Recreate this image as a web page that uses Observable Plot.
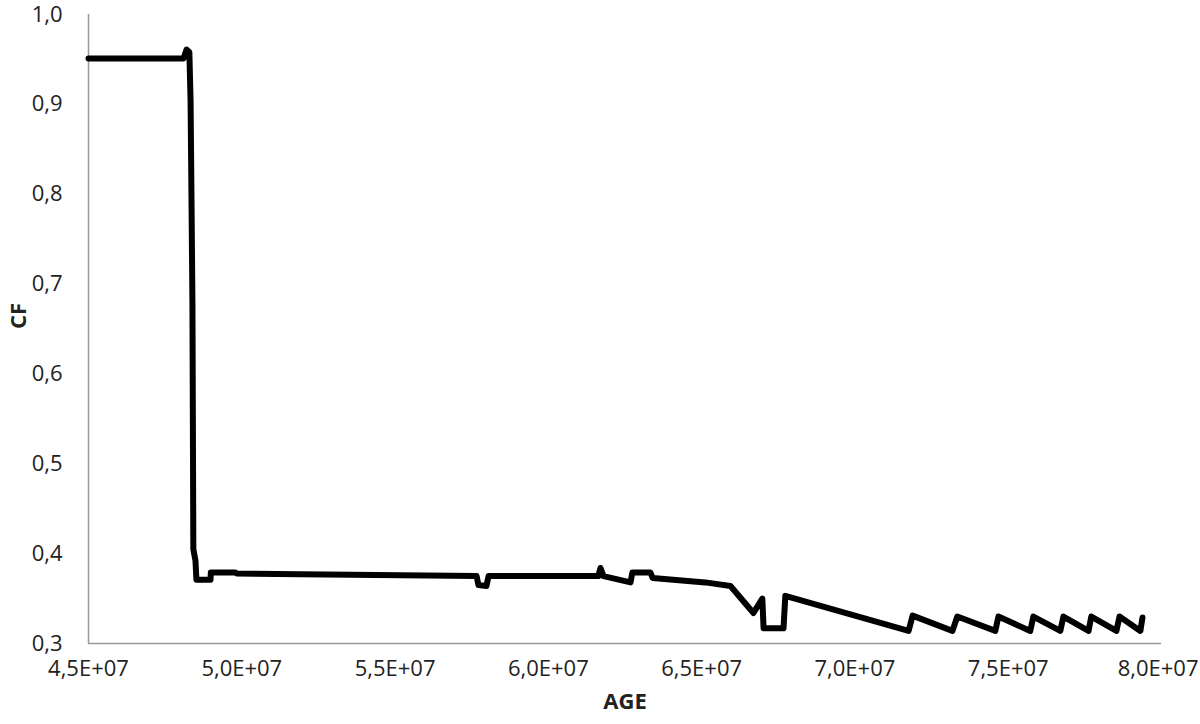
<!DOCTYPE html>
<html>
<head>
<meta charset="utf-8">
<script src="https://cdn.jsdelivr.net/npm/d3@7"></script>
<script src="https://cdn.jsdelivr.net/npm/@observablehq/plot@0.6"></script>
<style>
  html, body { margin: 0; padding: 0; background: #fff; }
  #chart { width: 1200px; height: 724px; }
  #chart svg { overflow: visible; }
  #chart svg text { font-family: 'Open Sans', 'Liberation Sans', sans-serif !important; font-size: 22px !important; }
  #chart svg g.title text { font-weight: bold !important; }
</style>
</head>
<body>
<div id="chart"></div>
<script>
// Age values (years)
const ages = [
  45.00e6, 48.10e6, 48.20e6, 48.29e6, 48.33e6, 48.39e6, 48.42e6, 48.49e6, 48.52e6,
  48.98e6, 48.99e6, 49.79e6, 49.83e6, 51.91e6, 57.66e6, 57.72e6, 57.98e6, 58.05e6,
  61.63e6, 61.70e6, 61.80e6, 62.68e6, 62.74e6, 63.33e6, 63.40e6, 65.12e6, 65.94e6,
  66.69e6, 66.98e6, 67.02e6, 67.67e6, 67.73e6, 71.75e6, 71.88e6, 73.18e6, 73.34e6,
  74.58e6, 74.68e6, 75.72e6, 75.82e6, 76.70e6, 76.80e6, 77.62e6, 77.71e6, 78.53e6,
  78.63e6, 79.31e6, 79.38e6
];
// CF values
const cfs = [
  0.951, 0.951, 0.961, 0.958, 0.903, 0.681, 0.405, 0.392, 0.371,
  0.371, 0.379, 0.379, 0.378, 0.377, 0.375, 0.365, 0.364, 0.375,
  0.375, 0.384, 0.375, 0.368, 0.379, 0.379, 0.373, 0.368, 0.364,
  0.334, 0.350, 0.317, 0.317, 0.353, 0.314, 0.331, 0.314, 0.330,
  0.314, 0.330, 0.314, 0.330, 0.314, 0.330, 0.314, 0.330, 0.314,
  0.330, 0.314, 0.329
];
const xTicks = [45e6, 50e6, 55e6, 60e6, 65e6, 70e6, 75e6, 80e6];
const yTicks = [0.3, 0.4, 0.5, 0.6, 0.7, 0.8, 0.9, 1.0];

const data = ages.map((a, i) => ({age: a, cf: cfs[i]}));
const fmtX = d => (d / 1e7).toFixed(1).replace(".", ",") + "E+07";
const fmtY = d => d.toFixed(1).replace(".", ",");

const chart = Plot.plot({
  width: 1200,
  height: 724,
  marginLeft: 88,
  marginRight: 39,
  marginTop: 14,
  marginBottom: 81,
  style: {color: "#222", background: "#fff", overflow: "visible"},
  x: {domain: [45e6, 80e6], ticks: xTicks, label: null, tickFormat: fmtX},
  y: {domain: [0.3, 1.0], ticks: yTicks, label: null, tickFormat: fmtY},
  marks: [
    Plot.axisX({ticks: xTicks.slice(0, -1), tickSize: 0, tickPadding: 17,
                tickFormat: fmtX, label: null}),
    Plot.axisX({ticks: xTicks.slice(-1), tickSize: 0, tickPadding: 17,
                tickFormat: fmtX, label: null, textAnchor: "end", dx: 37}),
    Plot.axisY({ticks: yTicks, tickSize: 0, tickPadding: 26,
                tickFormat: fmtY, label: null}),
    Plot.ruleY([0.3], {stroke: "#999", strokeWidth: 1.5}),
    Plot.ruleX([45e6], {stroke: "#999", strokeWidth: 1.5}),
    Plot.line(data, {x: "age", y: "cf", stroke: "#000", strokeWidth: 6,
                     strokeLinejoin: "round", strokeLinecap: "round"}),
    Plot.text(["CF"], {frameAnchor: "left", dx: -70, rotate: -90, fontWeight: "bold",
                       fill: "#222", className: "title"}),
    Plot.text(["AGE"], {frameAnchor: "bottom", dy: 65, fontWeight: "bold",
                        fill: "#222", className: "title"})
  ]
});
document.getElementById("chart").appendChild(chart);
</script>
</body>
</html>
